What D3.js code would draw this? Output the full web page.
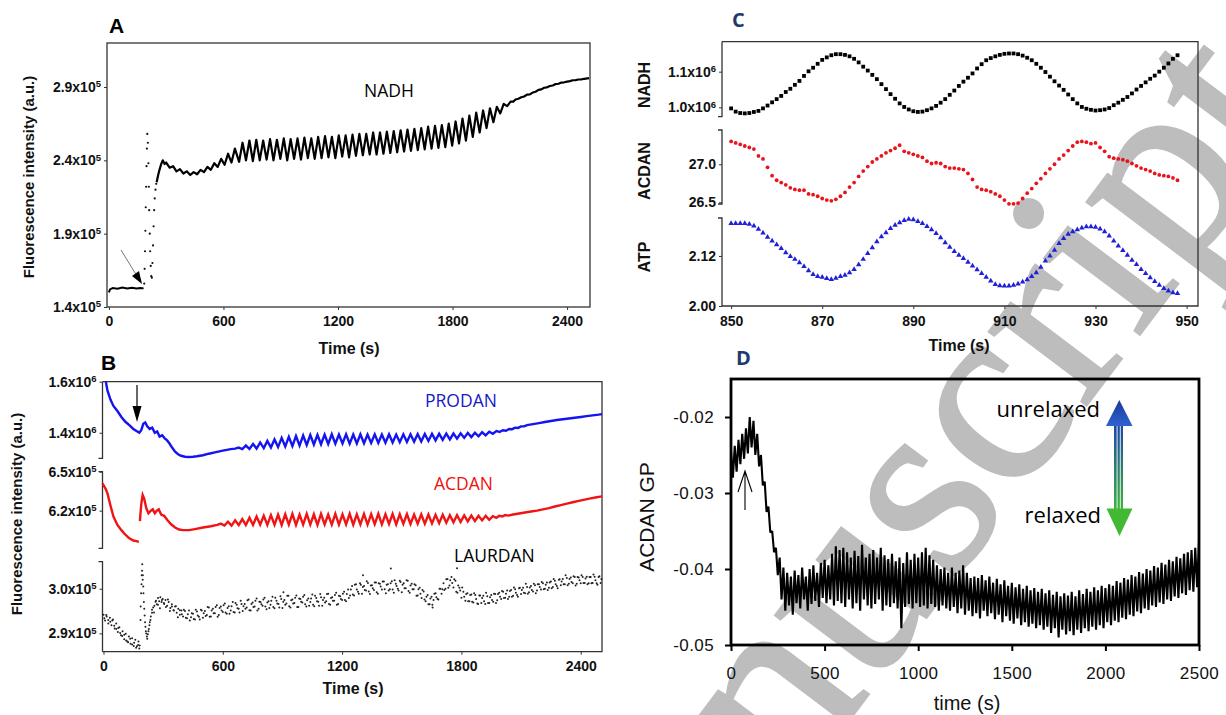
<!DOCTYPE html>
<html lang="en">
<head>
  <meta charset="UTF-8">
  <title>NADH and ACDAN oscillations</title>
  <script src="https://d3js.org/d3.v7.min.js"></script>
  <style>
    body { margin: 0; background: #fff; }
    svg text { font-family: "Liberation Sans", Arial, sans-serif; }
    .tk text, text.tk { font-size: 14px; font-weight: bold; fill: #111; }
    .tkD text { font-size: 17px; fill: #111; letter-spacing: 0.4px; }
    .ttl { font-size: 15px; font-weight: bold; fill: #111; }
    .ttlX { font-size: 16px; font-weight: bold; fill: #111; }
    .ttlC { font-size: 16px; font-weight: bold; fill: #111; }
    .ser { font-family: "Open Sans", "Noto Sans", sans-serif !important; font-size: 17.5px; }
    .note { font-family: "Open Sans", "Noto Sans", sans-serif !important; font-size: 22px; fill: #000; }
    .pnl { font-size: 21px; font-weight: bold; }
    .wm { font-family: "Liberation Serif", "DejaVu Serif", serif !important; font-size: 265px; fill: #bdbdbd;
          stroke: #bdbdbd; stroke-width: 3px; }
  </style>
</head>
<body>
<svg id="fig" width="1226" height="715"></svg>
<script>
// ---------- data (A, B in units of 10^5 / 10^6 a.u.) ----------
const nadhFlat = [[0,1.50],[6,1.52],[20,1.53],[45,1.525],[70,1.532],[95,1.526],[120,1.531],[145,1.526],[165,1.53],[182,1.527]];
const nadhSpike = [[185,1.56],[187,1.66],[189,1.78],[191,1.92],[193,2.08],[195,2.22],[197,2.36],[199,2.48],[201,2.58],
  [204,2.52],[207,2.38],[209,2.22],[211,2.06],[214,1.90],[216,1.78],[219,1.68],[222,1.61],[225,1.60],[228,1.70],
  [231,1.82],[234,1.95],[237,2.06],[240,2.14],[244,2.20],[248,2.24]];
const nadhMain = [[250,2.25],[258,2.30],[266,2.34],[274,2.375],[282,2.40],[292,2.375],[300,2.385],[318,2.35],[336,2.36],
  [354,2.325],[372,2.34],[390,2.31],[408,2.325],[426,2.30],[444,2.32],[462,2.305],[480,2.335],[498,2.32],[516,2.355],
  [534,2.335],[552,2.38],[570,2.355],[588,2.41],[606,2.37],[624,2.445],[642,2.385],[660,2.48],[682,2.39],
  [700,2.52],[718,2.40],[736,2.535],[754,2.395],[772,2.54],[790,2.40],[808,2.535],[826,2.405],[844,2.545],[862,2.40],
  [880,2.54],[898,2.41],[916,2.55],[934,2.40],[952,2.545],[970,2.41],[988,2.55],[1006,2.405],[1024,2.555],[1042,2.415],
  [1060,2.55],[1078,2.41],[1096,2.56],[1114,2.415],[1132,2.565],[1150,2.42],[1168,2.56],[1186,2.415],[1204,2.57],
  [1222,2.425],[1240,2.57],[1258,2.42],[1276,2.575],[1294,2.43],[1312,2.58],[1330,2.435],[1348,2.58],[1366,2.44],
  [1384,2.59],[1402,2.44],[1420,2.59],[1438,2.445],[1456,2.595],[1474,2.45],[1492,2.60],[1510,2.455],[1528,2.605],
  [1546,2.46],[1564,2.61],[1582,2.465],[1600,2.615],[1618,2.47],[1636,2.62],[1654,2.475],[1672,2.63],[1690,2.48],
  [1708,2.635],[1726,2.485],[1744,2.64],[1762,2.49],[1780,2.65],[1798,2.50],[1816,2.665],[1834,2.515],[1852,2.685],
  [1870,2.535],[1888,2.705],[1906,2.56],[1924,2.725],[1942,2.59],[1960,2.74],[1978,2.62],[1996,2.755],[2014,2.66],
  [2032,2.765],[2050,2.72],[2068,2.785],[2086,2.77],[2104,2.80],[2118,2.80],[2130,2.815],[2145,2.82],[2160,2.83],
  [2175,2.835],[2190,2.848],[2205,2.85],[2220,2.862],[2235,2.868],[2250,2.88],[2265,2.884],[2280,2.895],[2295,2.898],
  [2310,2.907],[2325,2.91],[2340,2.92],[2355,2.922],[2370,2.93],[2385,2.932],[2400,2.937],[2415,2.94],[2430,2.946],
  [2445,2.947],[2460,2.951],[2475,2.952],[2490,2.956],[2515,2.96]];

const prodan = [[12,1.60],[20,1.565],[35,1.53],[50,1.505],[70,1.485],[90,1.462],[110,1.443],[130,1.43],[150,1.415],
  [170,1.405],[180,1.40],[190,1.41],[200,1.435],[210,1.44],[220,1.425],[232,1.415],[245,1.42],[258,1.40],[270,1.405],
  [282,1.385],[295,1.39],[308,1.378],[320,1.37],[332,1.358],[345,1.342],[360,1.326],[375,1.316],[390,1.31],[410,1.306],
  [430,1.305],[450,1.306],[470,1.308],[500,1.312],[530,1.318],[560,1.323],[600,1.33],[640,1.336],[662,1.338],
  [680,1.342],[698,1.336],[716,1.350],[734,1.337],[752,1.356],[770,1.338],[788,1.362],[806,1.340],[824,1.368],
  [842,1.342],[860,1.374],[878,1.344],[896,1.380],[914,1.346],[932,1.384],[950,1.348],[968,1.387],[986,1.350],
  [1004,1.389],[1022,1.352],[1040,1.391],[1058,1.354],[1076,1.392],[1094,1.355],[1112,1.393],[1130,1.356],[1148,1.394],
  [1166,1.357],[1184,1.393],[1202,1.358],[1220,1.394],[1238,1.357],[1256,1.393],[1274,1.358],[1292,1.394],[1310,1.359],
  [1328,1.393],[1346,1.360],[1364,1.394],[1382,1.360],[1400,1.393],[1418,1.361],[1436,1.394],[1454,1.362],[1472,1.393],
  [1490,1.363],[1508,1.394],[1526,1.364],[1544,1.394],[1562,1.365],[1580,1.395],[1598,1.366],[1616,1.395],[1634,1.368],
  [1652,1.396],[1670,1.370],[1688,1.396],[1706,1.372],[1724,1.397],[1742,1.374],[1760,1.397],[1778,1.377],[1796,1.398],
  [1814,1.380],[1832,1.399],[1850,1.383],[1868,1.400],[1886,1.386],[1904,1.402],[1922,1.390],[1940,1.404],[1958,1.396],
  [1976,1.407],[1992,1.403],[2008,1.41],[2024,1.408],[2040,1.415],[2055,1.414],[2070,1.42],[2085,1.419],[2100,1.425],
  [2115,1.425],[2130,1.43],[2160,1.434],[2190,1.438],[2220,1.442],[2250,1.446],[2280,1.45],[2310,1.453],[2340,1.456],
  [2370,1.459],[2400,1.462],[2430,1.465],[2460,1.468],[2490,1.471],[2507,1.473]];

const acdanPre = [[-5,6.41],[10,6.37],[20,6.333],[35,6.24],[50,6.154],[70,6.09],[90,6.05],[110,6.015],[130,5.987],
  [150,5.97],[165,5.965],[178,5.96]];
const acdanMain = [[183,6.12],[190,6.25],[197,6.32],[205,6.29],[215,6.22],[226,6.18],[238,6.20],[248,6.21],[258,6.18],
  [268,6.20],[278,6.21],[290,6.17],[305,6.16],[320,6.13],[340,6.095],[360,6.07],[380,6.055],[400,6.05],[430,6.05],
  [460,6.058],[500,6.07],[540,6.08],[572,6.09],
  [590,6.10],[608,6.085],[626,6.115],[644,6.085],[662,6.125],[680,6.088],[698,6.135],[716,6.09],[734,6.145],[752,6.09],
  [770,6.155],[788,6.092],[806,6.16],[824,6.09],[842,6.165],[860,6.092],[878,6.17],[896,6.09],[914,6.172],[932,6.093],
  [950,6.175],[968,6.09],[986,6.17],[1004,6.092],[1022,6.175],[1040,6.093],[1058,6.172],[1076,6.09],[1094,6.175],
  [1112,6.094],[1130,6.17],[1148,6.092],[1166,6.175],[1184,6.093],[1202,6.172],[1220,6.094],[1238,6.176],[1256,6.092],
  [1274,6.172],[1292,6.095],[1310,6.175],[1328,6.093],[1346,6.173],[1364,6.096],[1382,6.176],[1400,6.094],[1418,6.172],
  [1436,6.097],[1454,6.175],[1472,6.095],[1490,6.172],[1508,6.098],[1526,6.174],[1544,6.097],[1562,6.17],[1580,6.10],
  [1598,6.172],[1616,6.10],[1634,6.17],[1652,6.102],[1670,6.168],[1688,6.104],[1706,6.168],[1724,6.107],[1742,6.165],
  [1760,6.11],[1778,6.165],[1796,6.113],[1814,6.163],[1832,6.117],[1850,6.162],[1868,6.12],[1886,6.16],[1904,6.125],
  [1922,6.16],[1940,6.13],[1958,6.158],[1976,6.145],[1990,6.16],[2005,6.155],[2020,6.166],[2035,6.162],[2060,6.17],
  [2090,6.178],[2120,6.186],[2150,6.193],[2180,6.20],[2210,6.21],[2240,6.22],[2270,6.232],[2300,6.243],[2330,6.254],
  [2360,6.265],[2390,6.275],[2420,6.285],[2450,6.295],[2480,6.303],[2507,6.31]];

// LAURDAN is a cloud of samples, read as two interleaved sets
const laurdan = [[0,2.942],[8,2.929],[16,2.938],[24,2.922],[32,2.935],[40,2.918],[48,2.931],[56,2.911],[64,2.922],
  [72,2.903],[80,2.914],[88,2.896],[96,2.905],[104,2.887],[112,2.899],[120,2.882],[128,2.893],[136,2.877],[144,2.889],
  [152,2.872],[160,2.886],[168,2.871],[176,2.882],[182,2.873],
  [186,2.93],[189,2.99],[192,3.03],[195,3.055],[198,3.03],[201,2.99],[205,2.955],[209,2.925],[213,2.905],[218,2.893],
  [223,2.898],[228,2.91],[233,2.925],[238,2.938],[244,2.946],[250,2.958],[256,2.962],[262,2.971],[268,2.965],
  [274,2.979],[280,2.972],[286,2.981],[292,2.970],[298,2.977],[305,2.966],[312,2.975],[320,2.962],[328,2.970],
  [336,2.957],[344,2.965],[352,2.952],[360,2.960],[368,2.946],[376,2.955],[384,2.942],[392,2.951],[400,2.938],
  [410,2.950],[420,2.934],[430,2.951],[440,2.936],[450,2.944],[460,2.931],[470,2.949],[480,2.937],[490,2.953],
  [500,2.935],[510,2.950],[520,2.941],[530,2.958],[540,2.938],[550,2.955],[560,2.945],[570,2.963],[580,2.941],
  [590,2.960],[600,2.948],[610,2.967],[620,2.944],[630,2.961],[640,2.951],[650,2.970],[660,2.947],[670,2.964],
  [680,2.955],[690,2.973],[700,2.950],[710,2.966],[720,2.958],[730,2.976],[740,2.951],[750,2.969],[760,2.960],
  [770,2.978],[780,2.955],[790,2.970],[800,2.962],[810,2.980],[820,2.954],[830,2.972],[840,2.964],[850,2.982],
  [860,2.956],[870,2.973],[880,2.966],[890,2.983],[900,2.957],[905,2.992],[910,2.975],[920,2.967],[930,2.984],
  [940,2.958],[950,2.976],[960,2.968],[970,2.985],[980,2.959],[990,2.977],[1000,2.969],[1010,2.986],[1020,2.960],
  [1030,2.978],[1040,2.970],[1050,2.987],[1060,2.961],[1070,2.979],[1080,2.971],[1090,2.988],[1100,2.962],
  [1110,2.980],[1120,2.972],[1130,2.989],[1140,2.964],[1150,2.981],[1160,2.973],[1170,2.991],[1180,2.966],
  [1190,2.983],[1200,2.975],[1210,2.993],[1220,2.972],[1230,2.998],[1240,2.985],[1250,3.006],[1260,2.985],
  [1270,3.010],[1280,2.993],[1290,3.012],[1300,2.989],[1305,3.030],[1310,3.006],[1320,2.996],[1330,3.013],
  [1340,2.988],[1350,3.008],[1360,2.997],[1370,3.014],[1380,2.989],[1390,3.011],[1400,2.998],[1410,3.016],
  [1420,2.990],[1430,3.010],[1440,2.999],[1445,3.045],[1450,3.017],[1460,2.991],[1470,3.011],[1480,3.000],
  [1490,3.018],[1500,2.992],[1510,3.012],[1520,3.001],[1530,3.018],[1540,2.991],[1550,3.011],[1560,2.999],
  [1570,3.008],[1580,2.985],[1590,3.002],[1600,2.979],[1610,2.994],[1620,2.972],[1630,2.986],[1640,2.965],
  [1650,2.982],[1655,2.958],[1660,2.975],[1670,2.990],[1680,2.977],[1690,3.000],[1700,2.989],[1710,3.012],
  [1720,3.000],[1730,3.022],[1740,3.007],[1750,3.026],[1760,3.003],[1770,3.018],[1778,3.046],[1780,2.991],
  [1790,3.002],[1800,2.980],[1810,2.993],[1820,2.973],[1830,2.990],[1840,2.972],[1850,2.987],[1860,2.969],
  [1870,2.986],[1880,2.967],[1890,2.985],[1900,2.968],[1910,2.984],[1920,2.966],[1930,2.983],[1940,2.968],
  [1950,2.986],[1960,2.971],[1970,2.988],[1980,2.974],[1990,2.991],[2000,2.977],[2010,2.993],[2020,2.980],
  [2030,2.996],[2040,2.982],[2050,2.997],[2060,2.984],[2070,2.999],[2080,2.986],[2090,3.001],[2100,2.988],
  [2110,3.002],[2120,2.990],[2130,3.004],[2140,2.992],[2150,3.006],[2160,2.994],[2170,3.008],[2180,2.996],
  [2190,3.010],[2200,2.998],[2210,3.012],[2220,3.000],[2230,3.014],[2240,3.002],[2250,3.016],[2260,3.004],
  [2270,3.018],[2280,3.006],[2290,3.020],[2300,3.008],[2310,3.022],[2320,3.010],[2330,3.024],[2340,3.011],
  [2350,3.025],[2360,3.012],[2370,3.026],[2380,3.011],[2390,3.025],[2400,3.012],[2410,3.026],[2420,3.013],
  [2430,3.027],[2440,3.012],[2450,3.026],[2460,3.013],[2470,3.027],[2480,3.012],[2490,3.026],[2500,3.013]];
const laurdan2 = [[4,2.934],[14,2.941],[24,2.930],[34,2.926],[44,2.929],[54,2.917],[64,2.910],[74,2.912],[84,2.901],
  [94,2.894],[104,2.897],[114,2.884],[124,2.880],[134,2.888],[144,2.875],[154,2.879],[164,2.868],[174,2.874],[180,2.866],
  [187,2.96],[191,3.01],[194,3.04],[197,3.02],[200,3.005],[203,2.97],[207,2.94],[211,2.915],[215,2.90],[220,2.888],
  [226,2.905],[231,2.918],[236,2.93],[244,2.953],[254,2.947],[264,2.973],[274,2.964],[284,2.956],[294,2.975],
  [304,2.968],[314,2.959],[324,2.976],[334,2.950],[344,2.960],[354,2.951],[364,2.961],[374,2.936],[384,2.952],
  [394,2.943],[404,2.953],[414,2.935],[424,2.943],[434,2.929],[444,2.945],[454,2.932],[464,2.953],[474,2.940],
  [484,2.931],[494,2.951],[504,2.945],[514,2.939],[524,2.959],[534,2.937],[544,2.951],[554,2.945],[564,2.959],
  [574,2.937],[584,2.957],[594,2.951],[604,2.963],[614,2.947],[624,2.957],[634,2.944],[644,2.961],[654,2.948],
  [664,2.968],[674,2.956],[684,2.947],[694,2.966],[704,2.961],[714,2.955],[724,2.974],[734,2.952],[744,2.966],
  [754,2.959],[764,2.973],[774,2.951],[784,2.971],[794,2.965],[804,2.976],[814,2.960],[824,2.969],[834,2.957],
  [844,2.973],[854,2.959],[864,2.980],[874,2.967],[884,2.958],[894,2.977],[904,2.971],[914,2.964],[924,2.984],
  [934,2.961],[944,2.974],[954,2.967],[964,2.980],[974,2.959],[984,2.978],[994,2.971],[1004,2.982],[1014,2.965],
  [1024,2.974],[1034,2.962],[1044,2.978],[1054,2.964],[1064,2.984],[1074,2.972],[1084,2.962],[1094,2.981],
  [1104,2.975],[1114,2.969],[1124,2.988],[1134,2.966],[1144,2.979],[1154,2.973],[1164,2.986],[1174,2.964],
  [1184,2.984],[1194,2.977],[1204,2.989],[1214,2.975],[1224,2.988],[1234,2.979],[1244,2.998],[1254,2.987],
  [1264,3.009],[1274,2.998],[1284,2.989],[1294,3.009],[1304,3.004],[1314,2.997],[1324,3.017],[1334,2.994],
  [1344,3.007],[1354,3.001],[1364,3.014],[1374,2.992],[1384,3.012],[1394,3.005],[1404,3.016],[1414,2.999],
  [1424,3.009],[1434,2.996],[1444,3.012],[1454,2.998],[1464,3.019],[1474,3.006],[1484,2.996],[1494,3.015],
  [1504,3.009],[1514,3.001],[1524,3.019],[1534,2.995],[1544,3.007],[1554,2.999],[1564,3.010],[1574,2.984],
  [1584,2.999],[1594,2.989],[1604,2.997],[1614,2.976],[1624,2.982],[1634,2.965],[1644,2.978],[1654,2.964],
  [1664,2.989],[1674,2.981],[1684,2.976],[1694,3.000],[1704,2.999],[1714,2.997],[1724,3.021],[1734,3.002],
  [1744,3.019],[1754,3.013],[1764,3.021],[1774,2.993],[1784,3.007],[1794,2.996],[1804,3.003],[1814,2.982],
  [1824,2.988],[1834,2.972],[1844,2.986],[1854,2.971],[1864,2.990],[1874,2.977],[1884,2.966],[1894,2.985],
  [1904,2.979],[1914,2.972],[1924,2.991],[1934,2.968],[1944,2.981],[1954,2.975],[1964,2.989],[1974,2.968],
  [1984,2.988],[1994,2.982],[2004,2.995],[2014,2.979],[2024,2.989],[2034,2.977],[2044,2.995],[2054,2.982],
  [2064,3.003],[2074,2.991],[2084,2.982],[2094,3.002],[2104,2.997],[2114,2.991],[2124,3.011],[2134,2.989],
  [2144,3.003],[2154,2.997],[2164,3.011],[2174,2.990],[2184,3.010],[2194,3.004],[2204,3.015],[2214,2.999],
  [2224,3.009],[2234,2.997],[2244,3.014],[2254,3.001],[2264,3.022],[2274,3.010],[2284,3.001],[2294,3.021],
  [2304,3.016],[2314,3.010],[2324,3.030],[2334,3.008],[2344,3.022],[2354,3.015],[2364,3.028],[2374,3.007],
  [2384,3.026],[2394,3.019],[2404,3.030],[2414,3.013],[2424,3.023],[2434,3.010],[2444,3.026],[2454,3.012],
  [2464,3.032],[2474,3.019],[2484,3.009],[2494,3.028],[2504,3.022]];

// ---------- data C (850-948 s) ----------
const cTime = [850,851,852,853,854,855,856,857,858,859,860,861,862,863,864,865,866,867,868,869,870,871,872,873,874,
  875,876,877,878,879,880,881,882,883,884,885,886,887,888,889,890,891,892,893,894,895,896,897,898,899,900,901,902,903,
  904,905,906,907,908,909,910,911,912,913,914,915,916,917,918,919,920,921,922,923,924,925,926,927,928,929,930,931,932,
  933,934,935,936,937,938,939,940,941,942,943,944,945,946,947,948];
const cNadh = [.997,.988,.984,.983,.984,.987,.990,.997,1.005,1.014,1.023,1.032,1.043,1.052,1.063,1.074,1.088,1.101,
  1.111,1.122,1.133,1.140,1.146,1.149,1.149,1.147,1.143,1.136,1.126,1.114,1.103,1.091,1.079,1.065,1.051,1.037,1.024,
  1.011,1.001,.994,.989,.987,.988,.992,.997,1.004,1.013,1.023,1.035,1.047,1.060,1.072,1.083,1.095,1.109,1.121,1.132,
  1.138,1.143,1.147,1.150,1.151,1.151,1.149,1.145,1.139,1.132,1.122,1.111,1.099,1.086,1.073,1.061,1.049,1.036,1.023,
  1.011,1.001,.996,.993,.991,.992,.994,.998,1.006,1.013,1.021,1.029,1.039,1.050,1.060,1.070,1.080,1.089,1.100,1.111,
  1.123,1.136,1.146];
const cAcdan = [27.30,27.28,27.26,27.24,27.22,27.20,27.11,27.07,26.96,26.85,26.79,26.76,26.73,26.69,26.67,26.66,26.66,
  26.61,26.60,26.58,26.55,26.53,26.52,26.54,26.58,26.63,26.70,26.76,26.84,26.91,26.97,27.03,27.07,27.11,27.15,27.18,
  27.21,27.25,27.17,27.15,27.13,27.11,27.09,27.04,27.01,27.02,27.01,26.97,26.95,26.95,26.94,26.93,26.88,26.80,26.70,
  26.67,26.66,26.64,26.61,26.58,26.53,26.48,26.48,26.49,26.55,26.62,26.68,26.75,26.81,26.88,26.94,27.00,27.07,27.12,
  27.18,27.24,27.29,27.30,27.29,27.27,27.28,27.22,27.17,27.10,27.08,27.07,27.06,27.04,27.01,26.98,26.95,26.93,26.91,
  26.88,26.86,26.85,26.84,26.82,26.79];
const cAtp = [2.198,2.198,2.198,2.198,2.196,2.192,2.184,2.175,2.165,2.156,2.147,2.138,2.128,2.119,2.112,2.104,2.095,
  2.085,2.076,2.071,2.069,2.066,2.064,2.067,2.071,2.074,2.080,2.088,2.099,2.112,2.126,2.140,2.154,2.166,2.176,2.186,
  2.194,2.200,2.205,2.208,2.207,2.203,2.198,2.191,2.183,2.174,2.164,2.152,2.141,2.131,2.122,2.114,2.105,2.096,2.087,
  2.078,2.069,2.060,2.052,2.049,2.048,2.048,2.050,2.053,2.058,2.063,2.071,2.080,2.093,2.108,2.120,2.134,2.150,2.162,
  2.172,2.178,2.183,2.187,2.190,2.190,2.189,2.185,2.178,2.168,2.156,2.144,2.133,2.122,2.110,2.100,2.088,2.078,2.068,
  2.059,2.050,2.042,2.036,2.032,2.030];

// ---------- data D (ACDAN GP) ----------
const gp = [[0,-.0245],[10,-.0280],[20,-.0238],[30,-.0272],[40,-.0230],[50,-.0262],[60,-.0222],[70,-.0255],[80,-.0215],
  [90,-.0248],[100,-.0200],[110,-.0240],[120,-.0205],[130,-.0250],[140,-.0222],[150,-.0265],[160,-.0250],[170,-.0290],
  [180,-.0285],[190,-.0325],[200,-.0318],[210,-.0352],[220,-.0350],[230,-.0378],[240,-.0372],[250,-.0408],[260,-.0385],
  [270,-.0440],[280,-.0398],[290,-.0455],[300,-.0405],[310,-.0448],[320,-.0410],[330,-.0460],[340,-.0402],[350,-.0445],
  [360,-.0408],[370,-.0452],[380,-.0398],[390,-.0440],[400,-.0410],[410,-.0455],[420,-.0400],[430,-.0446],[440,-.0395],
  [450,-.0442],[460,-.0405],[470,-.0450],[480,-.0392],[490,-.0438],[500,-.0388],[510,-.0445],[520,-.0395],[530,-.0440],
  [540,-.0380],[550,-.0448],[560,-.0370],[570,-.0442],[580,-.0375],[590,-.0445],[600,-.0372],[610,-.0450],[620,-.0378],
  [630,-.0440],[640,-.0385],[650,-.0452],[660,-.0376],[670,-.0445],[680,-.0383],[690,-.0455],[700,-.0368],[710,-.0440],
  [720,-.0385],[730,-.0448],[740,-.0380],[750,-.0452],[760,-.0375],[770,-.0446],[780,-.0385],[790,-.0440],[800,-.0372],
  [810,-.0455],[820,-.0382],[830,-.0448],[840,-.0387],[850,-.0450],[860,-.0380],[870,-.0445],[880,-.0390],[890,-.0452],
  [900,-.0385],[910,-.0478],[920,-.0392],[930,-.0450],[940,-.0378],[950,-.0446],[960,-.0388],[970,-.0452],[980,-.0380],
  [990,-.0445],[1000,-.0385],[1010,-.0450],[1020,-.0378],[1030,-.0448],[1040,-.0372],[1050,-.0452],[1060,-.0382],
  [1070,-.0446],[1080,-.0388],[1090,-.0450],[1100,-.0395],[1110,-.0455],[1120,-.0400],[1130,-.0448],[1140,-.0398],
  [1150,-.0452],[1160,-.0405],[1170,-.0455],[1180,-.0398],[1190,-.0450],[1200,-.0405],[1210,-.0458],[1220,-.0402],
  [1230,-.0452],[1240,-.0395],[1250,-.0460],[1260,-.0405],[1270,-.0455],[1280,-.0412],[1290,-.0462],[1300,-.0410],
  [1310,-.0458],[1320,-.0412],[1330,-.0465],[1340,-.0408],[1350,-.0455],[1360,-.0415],[1370,-.0462],[1380,-.0410],
  [1390,-.0458],[1400,-.0418],[1410,-.0466],[1420,-.0413],[1430,-.0460],[1440,-.0420],[1450,-.0470],[1460,-.0415],
  [1470,-.0462],[1480,-.0422],[1490,-.0468],[1500,-.0418],[1510,-.0472],[1520,-.0424],[1530,-.0465],[1540,-.0420],
  [1550,-.0474],[1560,-.0426],[1570,-.0470],[1580,-.0422],[1590,-.0476],[1600,-.0428],[1610,-.0472],[1620,-.0425],
  [1630,-.0478],[1640,-.0430],[1650,-.0474],[1660,-.0426],[1670,-.0480],[1680,-.0432],[1690,-.0476],[1700,-.0428],
  [1710,-.0484],[1720,-.0434],[1730,-.0478],[1740,-.0430],[1750,-.0490],[1760,-.0436],[1770,-.0480],[1780,-.0432],
  [1790,-.0486],[1800,-.0435],[1810,-.0482],[1820,-.0430],[1830,-.0487],[1840,-.0436],[1850,-.0480],[1860,-.0428],
  [1870,-.0484],[1880,-.0433],[1890,-.0478],[1900,-.0426],[1910,-.0482],[1920,-.0430],[1930,-.0476],[1940,-.0424],
  [1950,-.0480],[1960,-.0428],[1970,-.0474],[1980,-.0422],[1990,-.0478],[2000,-.0425],[2010,-.0470],[2020,-.0420],
  [2030,-.0474],[2040,-.0422],[2050,-.0468],[2060,-.0416],[2070,-.0470],[2080,-.0418],[2090,-.0464],[2100,-.0412],
  [2110,-.0466],[2120,-.0414],[2130,-.0460],[2140,-.0408],[2150,-.0462],[2160,-.0410],[2170,-.0456],[2180,-.0404],
  [2190,-.0458],[2200,-.0406],[2210,-.0452],[2220,-.0400],[2230,-.0454],[2240,-.0402],[2250,-.0448],[2260,-.0396],
  [2270,-.0450],[2280,-.0398],[2290,-.0444],[2300,-.0392],[2310,-.0446],[2320,-.0394],[2330,-.0440],[2340,-.0388],
  [2350,-.0442],[2360,-.0390],[2370,-.0436],[2380,-.0384],[2390,-.0438],[2400,-.0386],[2410,-.0432],[2420,-.0380],
  [2430,-.0434],[2440,-.0378],[2450,-.0428],[2460,-.0375],[2470,-.0430],[2480,-.0372],[2490,-.0424],[2500,-.0365]];

// tick values
const xTicksAB = [0, 600, 1200, 1800, 2400];
const xTicksC = [850, 870, 890, 910, 930, 950];
const xTicksD = [0, 500, 1000, 1500, 2000, 2500];

const svg = d3.select("#fig");
const frame = "#333";

// watermark sits behind the figure
svg.append("text").attr("class", "wm")
  .attr("transform", "translate(791,797) rotate(-53)")
  .text("nuscript");

// scientific tick labels like 2.9x10^5
function sciAxis(g, scale, vals, fmt, exp) {
  g.call(d3.axisLeft(scale).tickValues(vals).tickSize(3).tickPadding(3).tickFormat(""));
  g.select(".domain").remove();
  g.attr("class", "tk");
  g.selectAll(".tick line").attr("stroke", frame);
  g.selectAll(".tick text").each(function(d) {
    const t = d3.select(this);
    t.append("tspan").text(fmt(d) + (exp ? "x10" : ""));
    if (exp) t.append("tspan").attr("dy", "-0.5em").attr("font-size", "9.5px").text(exp);
  });
}
function xAxis(g, scale, vals, pad) {
  g.call(d3.axisBottom(scale).tickValues(vals).tickSize(3).tickPadding(pad).tickFormat(d3.format("d")));
  g.select(".domain").remove();
  g.attr("class", "tk");
  g.selectAll(".tick line").attr("stroke", frame);
}
// left spine segment with end caps
function spine(g, x, scale, capTop, capBot) {
  const [y1, y0] = scale.range();
  let d = `M${x},${y0}V${y1}`;
  if (capTop) d = `M${x - 4},${y0}H${x}V${y1}`;
  if (capBot) d += `H${x - 4}`;
  g.append("path").attr("d", d).attr("fill", "none").attr("stroke", frame).attr("stroke-width", 1.3);
}
function box3(g, x0, x1, y0, y1) {  // top, right, bottom sides
  g.append("path").attr("d", `M${x0},${y0}H${x1}V${y1}H${x0}`)
    .attr("fill", "none").attr("stroke", frame).attr("stroke-width", 1.3);
}

// ================= Panel A =================
const xA = d3.scaleLinear().domain([-10, 2520]).range([107, 590]);
const yA = d3.scaleLinear().domain([1.4, 3.2]).range([307, 43]);
const gA = svg.append("g");
gA.append("rect").attr("x", 107).attr("y", 43).attr("width", 483).attr("height", 264)
  .attr("fill", "none").attr("stroke", frame).attr("stroke-width", 1.3);
const lineA = d3.line().x(d => xA(d[0])).y(d => yA(d[1]));
gA.append("path").attr("d", lineA(nadhFlat)).attr("fill", "none").attr("stroke", "#000").attr("stroke-width", 2);
gA.append("path").attr("d", lineA(nadhMain)).attr("fill", "none").attr("stroke", "#000").attr("stroke-width", 2.2)
  .attr("stroke-linejoin", "round");
gA.selectAll(".sp").data(nadhSpike).join("circle").attr("cx", d => xA(d[0])).attr("cy", d => yA(d[1]))
  .attr("r", 1.1).attr("fill", "#111");
sciAxis(gA.append("g").attr("transform", "translate(107,0)"), yA, [1.4, 1.9, 2.4, 2.9], d3.format(".1f"), "5");
xAxis(gA.append("g").attr("transform", "translate(0,307)"), xA, xTicksAB, 6);
gA.append("line").attr("x1", 121).attr("y1", 250).attr("x2", 137).attr("y2", 276).attr("stroke", "#777").attr("stroke-width", 1);
gA.append("path").attr("d", "M142,284L132,276L139,271Z").attr("fill", "#000");
gA.append("text").attr("class", "ser").attr("x", 364).attr("y", 97).text("NADH");
gA.append("text").attr("class", "ttlX").attr("x", 349).attr("y", 354).attr("text-anchor", "middle").text("Time (s)");
gA.append("text").attr("class", "ttl").attr("transform", "translate(34,177) rotate(-90)")
  .attr("text-anchor", "middle").text("Fluorescence intensity (a.u.)");
svg.append("text").attr("class", "pnl").attr("x", 109).attr("y", 33).text("A");

// ================= Panel B =================
const xB = d3.scaleLinear().domain([-5, 2507]).range([102.5, 602]);
const yP = d3.scaleLinear().domain([1.3, 1.6]).range([458.3, 381.7]);
const yAc = d3.scaleLinear().domain([5.91, 6.5]).range([548.3, 471.7]);
const yL = d3.scaleLinear().domain([2.859, 3.0605]).range([651.7, 561.7]);
const gB = svg.append("g");
box3(gB, 102.5, 602, 381.7, 651.7);
spine(gB, 102.5, yP, false, true);
spine(gB, 102.5, yAc, true, true);
spine(gB, 102.5, yL, true, false);
const lineB = s => d3.line().x(d => xB(d[0])).y(d => s(d[1]));
gB.append("path").attr("d", lineB(yP)(prodan)).attr("fill", "none").attr("stroke", "#1414f0").attr("stroke-width", 2.4);
gB.append("path").attr("d", lineB(yAc)(acdanPre)).attr("fill", "none").attr("stroke", "#f01414").attr("stroke-width", 2.4);
gB.append("path").attr("d", lineB(yAc)(acdanMain)).attr("fill", "none").attr("stroke", "#f01414").attr("stroke-width", 2.4);
gB.selectAll(".ld").data(laurdan.concat(laurdan2)).join("circle").attr("cx", d => xB(d[0])).attr("cy", d => yL(d[1]))
  .attr("r", 1).attr("fill", "#222");
sciAxis(gB.append("g").attr("transform", "translate(102.5,0)"), yP, [1.4, 1.6], d3.format(".1f"), "6");
sciAxis(gB.append("g").attr("transform", "translate(102.5,0)"), yAc, [6.2, 6.5], d3.format(".1f"), "5");
sciAxis(gB.append("g").attr("transform", "translate(102.5,0)"), yL, [2.9, 3.0], d3.format(".1f"), "5");
xAxis(gB.append("g").attr("transform", "translate(0,651.7)"), xB, xTicksAB, 6);
gB.append("line").attr("x1", 137).attr("y1", 385).attr("x2", 137).attr("y2", 408).attr("stroke", "#000").attr("stroke-width", 1.2);
gB.append("path").attr("d", "M132.5,406H141.5L137,422Z").attr("fill", "#000");
gB.append("text").attr("class", "ser").attr("x", 425).attr("y", 407).attr("fill", "#1818c8").text("PRODAN");
gB.append("text").attr("class", "ser").attr("x", 434).attr("y", 490).attr("fill", "#f01010").text("ACDAN");
gB.append("text").attr("class", "ser").attr("x", 454).attr("y", 562).attr("fill", "#000").text("LAURDAN");
gB.append("text").attr("class", "ttlX").attr("x", 353).attr("y", 694).attr("text-anchor", "middle").text("Time (s)");
gB.append("text").attr("class", "ttl").attr("transform", "translate(22,514) rotate(-90)")
  .attr("text-anchor", "middle").text("Fluorescence intensity (a.u.)");
svg.append("text").attr("class", "pnl").attr("x", 101).attr("y", 370).text("B");

// ================= Panel C =================
const xC = d3.scaleLinear().domain([848, 952.5]).range([722, 1198]);
const yCn = d3.scaleLinear().domain([0.9737, 1.184]).range([116.7, 41.7]);
const yCa = d3.scaleLinear().domain([26.478, 27.45]).range([204, 130]);
const yCt = d3.scaleLinear().domain([2.0, 2.211]).range([306, 218]);
const gC = svg.append("g");
box3(gC, 722, 1198, 41.7, 306);
spine(gC, 722, yCn, false, true);
spine(gC, 722, yCa, true, true);
spine(gC, 722, yCt, true, false);
gC.selectAll(".cn").data(cTime).join("rect")
  .attr("x", (d, i) => xC(d) - 1.9).attr("y", (d, i) => yCn(cNadh[i]) - 1.9)
  .attr("width", 3.8).attr("height", 3.8).attr("fill", "#000");
gC.selectAll(".ca").data(cTime).join("circle")
  .attr("cx", d => xC(d)).attr("cy", (d, i) => yCa(cAcdan[i])).attr("r", 1.9).attr("fill", "#e8141c");
const tri = d3.symbol().type(d3.symbolTriangle).size(13);
gC.selectAll(".ct").data(cTime).join("path")
  .attr("transform", (d, i) => `translate(${xC(d)},${yCt(cAtp[i])})`).attr("d", tri).attr("fill", "#2020d8");
sciAxis(gC.append("g").attr("transform", "translate(722,0)"), yCn, [1.0, 1.1], d3.format(".1f"), "6");
sciAxis(gC.append("g").attr("transform", "translate(722,0)"), yCa, [26.5, 27.0], d3.format(".1f"), null);
sciAxis(gC.append("g").attr("transform", "translate(722,0)"), yCt, [2.0, 2.12], d3.format(".2f"), null);
xAxis(gC.append("g").attr("transform", "translate(0,306)"), xC, xTicksC, 7);
gC.append("text").attr("class", "ttlC").attr("transform", "translate(650,85) rotate(-90)").attr("text-anchor", "middle").text("NADH");
gC.append("text").attr("class", "ttlC").attr("transform", "translate(650,171) rotate(-90)").attr("text-anchor", "middle").text("ACDAN");
gC.append("text").attr("class", "ttlC").attr("transform", "translate(650,257) rotate(-90)").attr("text-anchor", "middle").text("ATP");
gC.append("text").attr("class", "ttlX").attr("x", 959).attr("y", 351).attr("text-anchor", "middle").text("Time (s)");
svg.append("text").attr("class", "pnl ser").attr("x", 732).attr("y", 27).attr("fill", "#1f3a6e")
  .style("font-weight", "bold").style("font-size", "20px").text("C");

// ================= Panel D =================
const xD = d3.scaleLinear().domain([0, 2500]).range([731, 1199]);
const yD = d3.scaleLinear().domain([-0.05, -0.015]).range([645, 379]);
const gD = svg.append("g");
gD.append("path").attr("d", d3.line().x(d => xD(d[0])).y(d => yD(d[1]))(gp))
  .attr("fill", "none").attr("stroke", "#000").attr("stroke-width", 2.1).attr("stroke-linejoin", "bevel");
gD.append("rect").attr("x", 731).attr("y", 379).attr("width", 468).attr("height", 266)
  .attr("fill", "none").attr("stroke", "#000").attr("stroke-width", 2.8);
const axDy = gD.append("g").attr("class", "tkD").attr("transform", "translate(731,0)")
  .call(d3.axisLeft(yD).tickValues([-0.05, -0.04, -0.03, -0.02]).tickSize(6).tickPadding(11).tickFormat(d => d.toFixed(2)));
const axDx = gD.append("g").attr("class", "tkD").attr("transform", "translate(0,645)")
  .call(d3.axisBottom(xD).tickValues(xTicksD).tickSize(6).tickPadding(16).tickFormat(d3.format("d")));
[axDy, axDx].forEach(a => { a.select(".domain").remove(); a.selectAll(".tick line").attr("stroke", "#000").attr("stroke-width", 2); });
gD.append("path").attr("d", "M745,510V471M738,492L745,471L752,492").attr("fill", "none").attr("stroke", "#000").attr("stroke-width", 1.1);
gD.append("text").attr("transform", "translate(654,517) rotate(-90)").attr("text-anchor", "middle")
  .style("font-size", "21px").attr("fill", "#111").text("ACDAN GP");
gD.append("text").attr("x", 967).attr("y", 710).attr("text-anchor", "middle").style("font-size", "20px").attr("fill", "#111").text("time (s)");
gD.append("text").attr("class", "note").attr("x", 1100).attr("y", 417).attr("text-anchor", "end").text("unrelaxed");
gD.append("text").attr("class", "note").attr("x", 1101).attr("y", 523).attr("text-anchor", "end").text("relaxed");

const defs = svg.append("defs");
const gr = defs.append("linearGradient").attr("id", "shaft").attr("x1", 0).attr("y1", 0).attr("x2", 0).attr("y2", 1);
gr.append("stop").attr("offset", "0%").attr("stop-color", "#1f44a8");
gr.append("stop").attr("offset", "100%").attr("stop-color", "#3cb53a");
const gb = defs.append("linearGradient").attr("id", "headB").attr("x1", 0).attr("y1", 0).attr("x2", 0).attr("y2", 1);
gb.append("stop").attr("offset", "0%").attr("stop-color", "#1a3a9a");
gb.append("stop").attr("offset", "100%").attr("stop-color", "#2d62d2");
gD.append("rect").attr("x", 1114).attr("y", 424).attr("width", 9).attr("height", 86).attr("fill", "url(#shaft)");
gD.append("rect").attr("x", 1116.6).attr("y", 424).attr("width", 1).attr("height", 86).attr("fill", "#fff").attr("opacity", 0.85);
gD.append("rect").attr("x", 1119.8).attr("y", 424).attr("width", 1).attr("height", 86).attr("fill", "#fff").attr("opacity", 0.85);
gD.append("path").attr("d", "M1119.3,400L1132.5,426H1106Z").attr("fill", "url(#headB)");
gD.append("path").attr("d", "M1106.5,508.5H1132.5L1119.5,536Z").attr("fill", "#42b833");
svg.append("text").attr("class", "pnl ser").attr("x", 736).attr("y", 365).attr("fill", "#1f3a6e")
  .style("font-weight", "bold").style("font-size", "20px").text("D");
</script>
</body>
</html>
